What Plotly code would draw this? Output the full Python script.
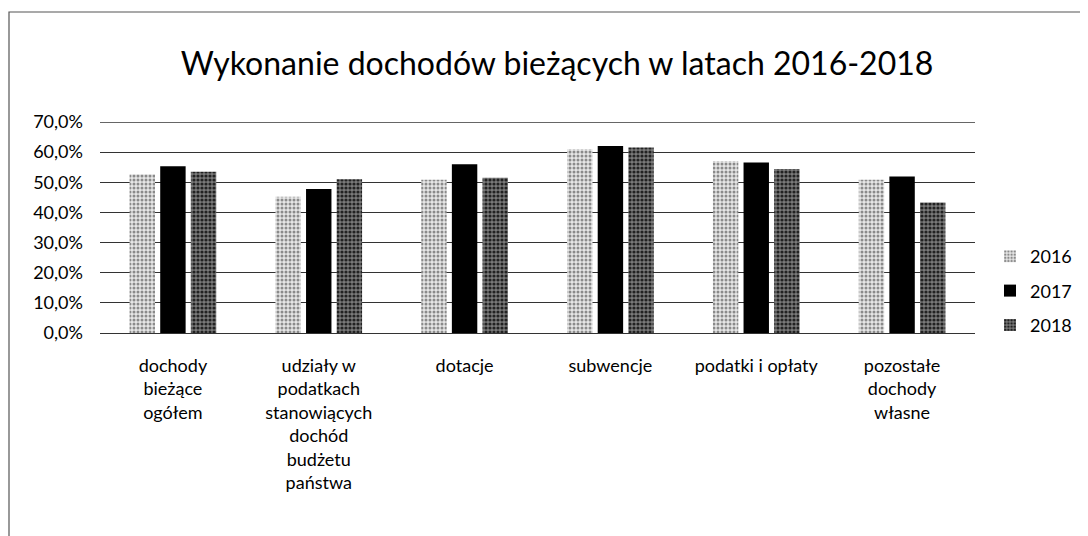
import plotly.graph_objects as go

categories = [
    "dochody<br>bieżące<br>ogółem",
    "udziały w<br>podatkach<br>stanowiących<br>dochód<br>budżetu<br>państwa",
    "dotacje",
    "subwencje",
    "podatki i opłaty",
    "pozostałe<br>dochody<br>własne",
]
years = ["2016", "2017", "2018"]
values_2016 = [0.527, 0.452, 0.508, 0.610, 0.570, 0.508]
values_2017 = [0.553, 0.478, 0.560, 0.620, 0.566, 0.519]
values_2018 = [0.535, 0.510, 0.515, 0.615, 0.544, 0.433]
y_ticks = [0.0, 0.1, 0.2, 0.3, 0.4, 0.5, 0.6, 0.7]

FONT = "Lato"
TXT = "#000000"

styles = {
    "2016": dict(color="#c4c4c4", pattern=dict(shape=".", bgcolor="#e6e6e6", fgcolor="#8a8a8a", size=4, solidity=0.45, fillmode="replace")),
    "2017": dict(color="#000000"),
    "2018": dict(color="#555555", pattern=dict(shape=".", bgcolor="#7a7a7a", fgcolor="#222222", size=4, solidity=0.5, fillmode="replace")),
}

fig = go.Figure()
for yr, vals in zip(years, [values_2016, values_2017, values_2018]):
    st = styles[yr]
    marker = dict(color=st["color"], line=dict(width=0))
    if "pattern" in st:
        marker["pattern"] = st["pattern"]
    fig.add_trace(go.Bar(name=yr, x=categories, y=vals, marker=marker,
                         legendgroup=yr))

W, H = 1080, 528
L, R, T, B = 92, 967, 114, 325
def px(x):
    return (x - L) / (R - L)
def py(y):
    return (B - y) / (B - T)

# outer chart border (bottom edge falls outside the picture)
fig.add_shape(type="rect", xref="paper", yref="paper",
              x0=px(1), x1=px(1076), y0=py(560), y1=py(4),
              line=dict(color="#555555", width=1.2), fillcolor="rgba(0,0,0,0)", layer="below")
# top gridline at the axis maximum
fig.add_shape(type="line", xref="paper", yref="y", x0=0, x1=1, y0=y_ticks[-1], y1=y_ticks[-1],
              line=dict(color="#333333", width=1.3), layer="below")

fig.update_layout(
    width=W, height=H,
    margin=dict(l=L, r=W - R, t=T, b=H - B, autoexpand=False),
    paper_bgcolor="white", plot_bgcolor="white",
    barmode="group", bargap=0.37, bargroupgap=0.17,
    separators=", ",
    font=dict(family=FONT, size=18, color=TXT),
    title=dict(text="Wykonanie dochodów bieżących w latach 2016-2018",
               x=549 / W, xref="container", xanchor="center",
               y=1 - 56 / H, yref="container", yanchor="middle",
               font=dict(family=FONT, size=32, color=TXT)),
    legend=dict(x=982 / W, xref="container", xanchor="left",
                y=1 - 230 / H, yref="container", yanchor="top",
                font=dict(family=FONT, size=18, color=TXT),
                tracegroupgap=8, itemwidth=30, bgcolor="rgba(0,0,0,0)"),
    showlegend=True,
)
fig.update_xaxes(showgrid=False, showline=False, ticks="", ticklabelstandoff=20,
                 tickfont=dict(family=FONT, size=18, color=TXT))
fig.update_yaxes(range=[0, 0.7], tickvals=y_ticks, tickformat=".1%",
                 showgrid=True, gridcolor="#333333", gridwidth=1.3,
                 zeroline=True, zerolinecolor="#333333", zerolinewidth=1.3,
                 showline=False, ticks="", ticklabelstandoff=16,
                 tickfont=dict(family=FONT, size=18, color=TXT))

fig.write_html("out.html")
